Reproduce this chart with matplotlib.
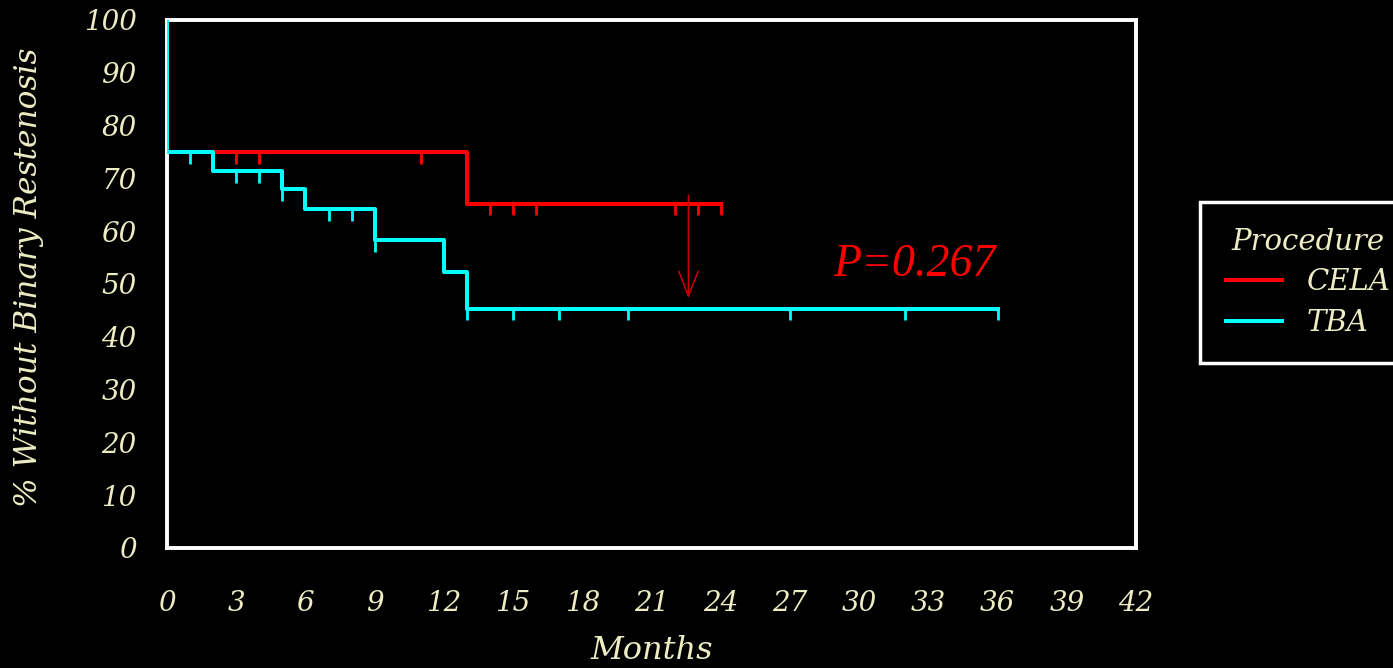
import matplotlib
matplotlib.use('Agg')
import matplotlib.pyplot as plt

# Kaplan-Meier steps (months, % without binary restenosis)
tba_times = [0, 0, 2, 5, 6, 9, 12, 13, 36]
tba_surv = [100, 75, 71.4, 68.0, 64.2, 58.3, 52.3, 45.3, 45.3]
cela_times = [0, 0, 13, 24]
cela_surv = [100, 75, 65.2, 65.2]

# censored observations
tba_cens_t = [1, 3, 4, 5, 7, 8, 9, 13, 15, 17, 20, 27, 32, 36]
tba_cens_s = [75, 71.4, 71.4, 68.0, 64.2, 64.2, 58.3, 45.3, 45.3, 45.3, 45.3, 45.3, 45.3, 45.3]
cela_cens_t = [3, 4, 11, 14, 15, 16, 22, 23, 24]
cela_cens_s = [75, 75, 75, 65.2, 65.2, 65.2, 65.2, 65.2, 65.2]

x_ticks = list(range(0, 43, 3))
y_ticks = list(range(0, 101, 10))

arrow_x = 22.6
arrow_top = 66.8
arrow_tip = 47.3
p_label = 'P=0.267'

CREAM = '#EDEDC4'
RED = '#FF0000'
CYAN = '#00FFFF'
FONT = 'DejaVu Serif'

fig = plt.figure(figsize=(13.93, 6.68), dpi=100, facecolor='black')
ax = fig.add_axes([167 / 1393, 1 - 548 / 668, (1136 - 167) / 1393, (548 - 20) / 668])
ax.set_facecolor('black')

red_line, = ax.step(cela_times, cela_surv, where='post', color=RED, lw=2.9, zorder=3, label='CELA')
cyan_line, = ax.step(tba_times, tba_surv, where='post', color=CYAN, lw=2.9, zorder=4, label='TBA')

tick_len = 2.2
ax.vlines(cela_cens_t, [s - tick_len for s in cela_cens_s], cela_cens_s, color=RED, lw=2.0, zorder=3)
ax.vlines(tba_cens_t, [s - tick_len for s in tba_cens_s], tba_cens_s, color=CYAN, lw=2.0, zorder=4)

ax.annotate('', xy=(arrow_x, arrow_tip), xytext=(arrow_x, arrow_top),
            arrowprops=dict(arrowstyle='->,head_length=0.9,head_width=0.35',
                            color='#D00000', lw=1.1, mutation_scale=20, shrinkA=0, shrinkB=0))
ax.text(32.4, 53.6, p_label, color=RED, fontsize=33, style='italic', family='Liberation Serif',
        ha='center', va='center')

ax.set_xlim(0, 42)
ax.set_ylim(0, 100)
ax.set_xticks(x_ticks)
ax.set_yticks(y_ticks)
ax.tick_params(length=0, labelcolor=CREAM, labelsize=20)
ax.tick_params(axis='x', pad=30)
ax.tick_params(axis='y', pad=22)
for lab in ax.get_xticklabels() + ax.get_yticklabels():
    lab.set_family(FONT)
    lab.set_style('italic')

for sp in ax.spines.values():
    sp.set_color('white')
    sp.set_linewidth(2.8)
    sp.set_zorder(2)

ax.set_xlabel('Months', color=CREAM, fontsize=23, style='italic', family=FONT, labelpad=13)
ax.set_ylabel('% Without Binary Restenosis', color=CREAM, fontsize=22.5, style='italic',
              family=FONT)
ax.yaxis.set_label_coords(-0.127, 0.512)

leg = ax.legend(handles=[red_line, cyan_line], title='Procedure', loc='upper left',
                bbox_to_anchor=(1200 / 1393, 1 - 202 / 668), bbox_transform=fig.transFigure,
                borderaxespad=0, fancybox=False, facecolor='black', edgecolor='white',
                framealpha=1, prop={'family': FONT, 'style': 'italic', 'size': 21},
                handlelength=1.9, handletextpad=0.85, labelspacing=0.42, borderpad=0.9)
leg.get_frame().set_linewidth(2.5)
leg.get_title().set_color(CREAM)
leg.get_title().set_fontproperties({'family': FONT, 'style': 'italic', 'size': 21})
for t in leg.get_texts():
    t.set_color(CREAM)

fig.savefig('out.png', dpi=100, facecolor='black')
